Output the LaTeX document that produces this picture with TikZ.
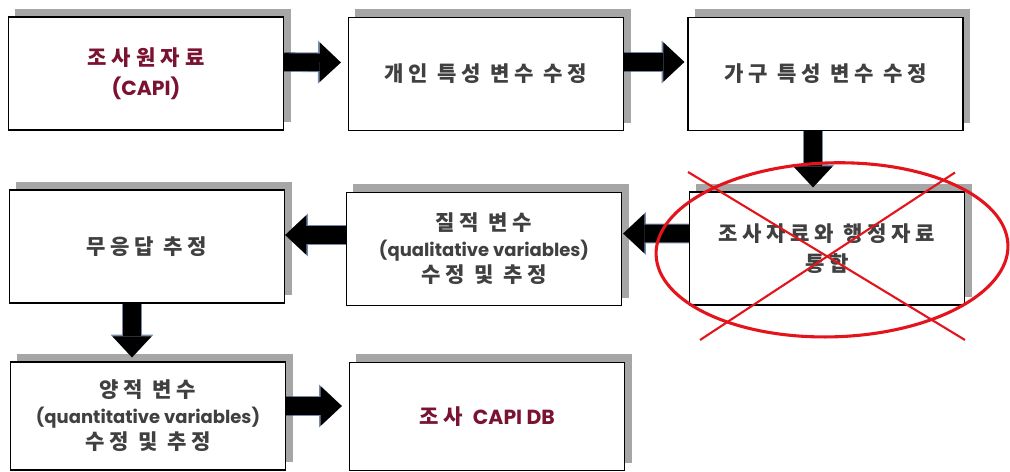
\documentclass[tikz,border=0pt]{standalone}
\usepackage{fontspec}
\newfontfamily\ko{Noto Sans CJK KR}[LetterSpace=22]
\newfontfamily\kotitle{Noto Sans CJK KR}[LetterSpace=24]
\newfontfamily\lat{Poppins}
\usetikzlibrary{arrows.meta,calc,shadows}
\definecolor{txtgray}{HTML}{404040}
\definecolor{titlered}{HTML}{7A1232}
\definecolor{shadowgray}{HTML}{A6A6A6}
\definecolor{crossred}{HTML}{E3141B}
\definecolor{glowblue}{HTML}{1F3B6E}
\newcommand\latline[1]{{\lat\bfseries\fontsize{12.8}{15}\selectfont #1}}
\newcommand\lattitle[1]{{\lat\bfseries\fontsize{14.5}{17}\selectfont #1}}
\begin{document}
\begin{tikzpicture}[x=0.025cm, y=-0.025cm,
  box/.style={draw=black, line width=0.9pt, fill=white,
    minimum width=6.875cm, minimum height=2.825cm, inner sep=0pt,
    align=center, text=txtgray,
    font=\ko\bfseries\fontsize{15}{18.5}\selectfont,
    drop shadow={shadow xshift=0.175cm, shadow yshift=0.2cm,
      fill=shadowgray, opacity=1}},
  lowbox/.style={box, minimum height=2.7cm},
  title/.style={text=titlered, font=\kotitle\bfseries\fontsize{15}{18.5}\selectfont},
  blk/.style={draw=black, line width=12.5pt,
    -{Triangle[length=15pt, width=28pt, line width=0pt]},
    preaction={draw=glowblue, opacity=.6, line width=14pt,
      -{Triangle[length=16.2pt, width=30.5pt, line width=0pt]}}},
  cross/.style={draw=crossred, line width=1.5pt},
  ring/.style={draw=crossred, line width=2.2pt}]

\useasboundingbox (0,0) rectangle (1010,472);

% first row
\node[box, title] (b1) at (146,73.5)
  {조사원자료\\[3pt]\lattitle{(CAPI)}};
\node[box] (b2) at (486,74) {개인 특성 변수 수정};
\node[box] (b3) at (825.5,74) {가구 특성 변수 수정};

% second row
\node[box] (b4) at (827,248.5) {조사자료와 행정자료\\[3pt]통합};
\node[box] (b5) at (484,249)
  {질적 변수\\\latline{(qualitative variables)}\\수정 및 추정};
\node[box] (b6) at (147,246.5) {무응답 추정};

% third row
\node[lowbox] (b7) at (148,416)
  {양적 변수\\\latline{(quantitative variables)}\\수정 및 추정};
\node[lowbox, title] (b8) at (487,416.5)
  {조사 \lattitle{CAPI DB}};

% flow arrows
\draw[blk] ($(b1.east)+(0,-11.5)$) -- ($(b2.west)+(-7,-11.5)$);
\draw[blk] ($(b2.east)+(0,-12)$) -- ($(b3.west)+(-3,-12)$);
\draw[blk] ($(b3.south)+(-12.5,0)$) -- ($(b4.north)+(-14,-4)$);
\draw[blk] ($(b4.west)+(0,-15)$) -- ($(b5.east)+(1,-15.5)$);
\draw[blk] ($(b5.west)+(0,-14)$) -- ($(b6.east)+(0,-11.5)$);
\draw[blk] ($(b6.south)+(-15,0)$) -- ($(b7.north)+(-16,-4)$);
\draw[blk] ($(b7.east)+(0,-10)$) -- ($(b8.west)+(-7,-10.5)$);

% struck-out step
\coordinate (xa) at ($(b4.center)+(-139,-76.5)$);
\coordinate (xb) at ($(b4.center)+(138,91.5)$);
\coordinate (xc) at ($(b4.center)+(128,-76)$);
\coordinate (xd) at ($(b4.center)+(-127,91.5)$);
\draw[cross] (xa) -- (xb);
\draw[cross] (xc) -- (xd);
\draw[ring, rotate around={1.6:(b4.center)}] ($(b4.center)+(5,1.5)$)
  ellipse [x radius=176, y radius=87];
\end{tikzpicture}
\end{document}
